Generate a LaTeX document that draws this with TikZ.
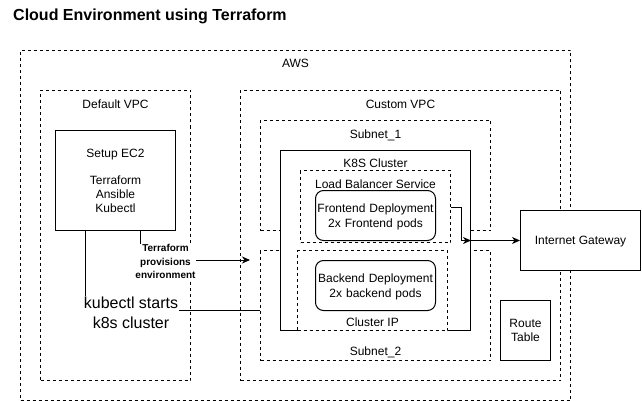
\documentclass[tikz,border=0pt]{standalone}
\usepackage{fontspec}
\setmainfont{Liberation Sans}
\usetikzlibrary{calc}
\usetikzlibrary{arrows.meta}
\usetikzlibrary{positioning}

\tikzset{
	zone/.style = {draw, fill=white, line width=1pt, dash pattern=on 3pt off 3pt, inner sep=0pt, anchor=north west},
	box/.style = {draw, fill=white, line width=1pt, inner sep=0pt, anchor=north west},
	pod/.style = {box, rounded corners=8pt},
	lbl/.style = {inner sep=0pt, align=center, font=\fontsize{12}{14}\selectfont},
	lblOne/.style = {lbl, text height=8.6pt, text depth=0pt},
	link/.style = {line width=1pt},
	tip/.style = {-{Stealth[length=8pt, width=7pt, inset=2.5pt]}},
}

\begin{document}
\begin{tikzpicture}[x=1pt, y=-1pt]

	\useasboundingbox (0,0) rectangle (642,401);

	% title
	\node [anchor=base west, inner sep=0pt, font=\bfseries\fontsize{16}{19}\selectfont] (title) at (13,21) {Cloud Environment using Terraform};

	% aws account
	\node [zone, minimum width=550, minimum height=350] (aws) at (20,50) {};
	\node [lblOne] (awsLabel) at ($(aws.north) + (0,13)$) {AWS};

	% default vpc with the setup machine
	\node [zone, minimum width=150, minimum height=290] (defaultVpc) at (40,90) {};
	\node [lblOne] (defaultVpcLabel) at ($(defaultVpc.north) + (0,14)$) {Default VPC};
	\node [box, minimum width=120, minimum height=100] (ec2) at (55,130) {};
	\node [lblOne] (ec2Label) at ($(ec2.north) + (0,23)$) {Setup EC2};
	\node [lbl] (ec2Tools) at ($(ec2.north) + (0,64.5)$) {Terraform\\Ansible\\Kubectl};

	% custom vpc
	\node [zone, minimum width=320, minimum height=290] (customVpc) at (240,90) {};
	\node [lblOne] (customVpcLabel) at ($(customVpc.north) + (0,14)$) {Custom VPC};

	%% subnets
	\node [zone, minimum width=230, minimum height=110] (subnetOne) at (260,120) {};
	\node [lblOne] (subnetOneLabel) at ($(subnetOne.north) + (0,14)$) {Subnet\_1};
	\node [zone, minimum width=230, minimum height=110] (subnetTwo) at (260,250) {};
	\node [lblOne] (subnetTwoLabel) at ($(subnetTwo.south) + (0,-10)$) {Subnet\_2};

	%% k8s cluster
	\node [box, minimum width=190, minimum height=180] (k8s) at (280,150) {};
	\node [lblOne] (k8sLabel) at ($(k8s.north) + (0,13)$) {K8S Cluster};

	%% services and deployments
	\node [zone, minimum width=150, minimum height=72] (loadBalancer) at (300,170) {};
	\node [lblOne] (loadBalancerLabel) at ($(loadBalancer.north) + (0,14)$) {Load Balancer Service};
	\node [pod, minimum width=120, minimum height=50] (frontend) at (315,190) {};
	\node [lbl, text width=120pt, font=\fontsize{12}{15}\selectfont] (frontendLabel) at ($(frontend.center) + (0,1.3)$) {Frontend Deployment\\2x Frontend pods};
	\node [zone, minimum width=150, minimum height=80] (clusterIp) at (297,250) {};
	\node [lblOne] (clusterIpLabel) at ($(clusterIp.south) + (0,-9)$) {Cluster IP};
	\node [pod, minimum width=120, minimum height=50] (backend) at (315,260) {};
	\node [lbl, text width=120pt, font=\fontsize{12}{14.6}\selectfont] (backendLabel) at ($(backend.center) + (0,1.3)$) {Backend Deployment\\2x backend pods};

	%% gateway and routes
	\node [box, minimum width=120, minimum height=60] (gateway) at (520,210) {};
	\node [lblOne] (gatewayLabel) at (gateway.center) {Internet Gateway};
	\node [box, minimum width=50, minimum height=60] (routeTable) at (500,300) {};
	\node [lbl] (routeTableLabel) at (routeTable.center) {Route\\Table};

	% provisioning arrow
	\coordinate (provisionEnd) at (250,260);
	\draw [link, tip] ($(ec2.south west) + (85,0)$) |- (provisionEnd);
	\node [lbl, fill=white, inner sep=0.5pt, font=\bfseries\fontsize{10}{13.5}\selectfont] (provisionLabel) at (165.5,261.5) {Terraform\\provisions\\environment};

	% kubectl line
	\draw [link] ($(ec2.south west) + (30.5,0)$) |- ($(subnetTwo.north west) + (0,60)$);
	\node [lbl, fill=white, inner sep=0.5pt, font=\fontsize{16}{20}\selectfont] (kubectlLabel) at (131,312.7) {kubectl starts\\k8s cluster};

	% traffic to the gateway
	\draw [link, tip] ($(loadBalancer.north east) + (0,37)$) -- ++(10,0) |- (k8s.east);
	\draw [link, tip] (k8s.east) -- (gateway.west);

\end{tikzpicture}
\end{document}
